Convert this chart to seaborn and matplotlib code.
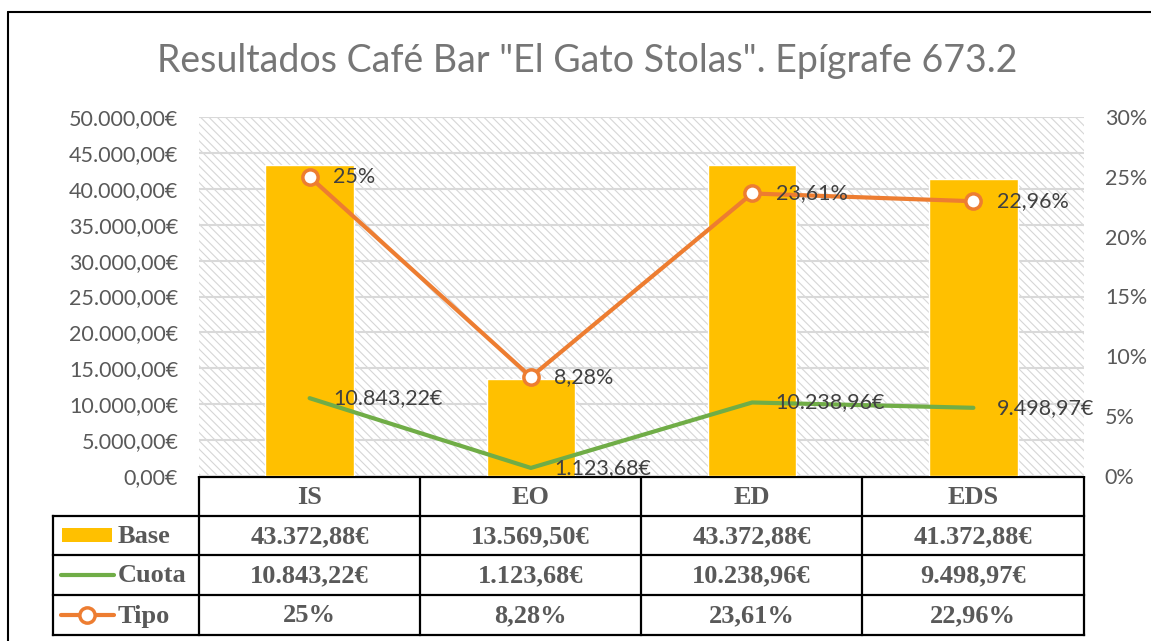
import numpy as np
import pandas as pd
import matplotlib
matplotlib.use("Agg")
import matplotlib.pyplot as plt
import seaborn as sns
from matplotlib.patches import Rectangle
from matplotlib.lines import Line2D
from matplotlib.ticker import FuncFormatter, MultipleLocator

# datos
categorias = ["IS", "EO", "ED", "EDS"]
base = [43372.88, 13569.50, 43372.88, 41372.88]
cuota = [10843.22, 1123.68, 10238.96, 9498.97]
tipo = [25.0, 8.28, 23.61, 22.96]
base_txt = ["43.372,88€", "13.569,50€", "43.372,88€", "41.372,88€"]
cuota_txt = ["10.843,22€", "1.123,68€", "10.238,96€", "9.498,97€"]
tipo_txt = ["25%", "8,28%", "23,61%", "22,96%"]
series = ["Base", "Cuota", "Tipo"]
titulo = 'Resultados Café Bar "El Gato Stolas". Epígrafe 673.2'

AMARILLO = "#FFC000"
VERDE = "#70AD47"
NARANJA = "#ED7D31"
GRIS = "#595959"
GRID = "#D9D9D9"

sns.set_theme(style="white")
plt.rcParams["font.family"] = ["Lato", "DejaVu Sans"]
plt.rcParams["hatch.linewidth"] = 0.8

W, H = 1151, 641
fig = plt.figure(figsize=(W / 100, H / 100), dpi=100)


def px_axes(x0, y0, x1, y1, **kw):
    return fig.add_axes([x0 / W, 1 - y1 / H, (x1 - x0) / W, (y1 - y0) / H], **kw)


def fmt_euro(v, _):
    s = f"{v:,.2f}".replace(",", "X").replace(".", ",").replace("X", ".")
    return s + "€"


# borde exterior
fig.add_artist(Line2D([8 / W, 8 / W], [0, 1 - 12 / H], color="black", lw=1.5))
fig.add_artist(Line2D([8 / W, 1], [1 - 12 / H, 1 - 12 / H], color="black", lw=1.5))

fig.text(587 / W, 1 - 61 / H, titulo, ha="center", va="center",
         fontsize=27, color="#767676")

# grafico principal
ax = px_axes(199, 117, 1084, 476)
ax.add_patch(Rectangle((0, 0), 1, 1, transform=ax.transAxes, facecolor="white",
                       edgecolor="#D6D6D6", hatch="\\\\\\\\", lw=0, zorder=0))
df = pd.DataFrame({"cat": categorias, "base": base, "cuota": cuota, "tipo": tipo})
sns.barplot(data=df, x="cat", y="base", color=AMARILLO, saturation=1, width=0.4,
            ax=ax, zorder=2)
sns.pointplot(data=df, x="cat", y="cuota", color=VERDE, marker="", linewidth=3,
              ax=ax, zorder=3)
ax.set_ylim(0, 50000)
ax.yaxis.set_major_locator(MultipleLocator(5000))
ax.yaxis.set_major_formatter(FuncFormatter(fmt_euro))
ax.grid(axis="y", color=GRID, lw=1.5, zorder=1)
ax.set_axisbelow(True)
ax.set_xlabel("")
ax.set_ylabel("")
ax.set_xticklabels([])
ax.tick_params(axis="y", length=0, pad=15, labelsize=15.5, labelcolor=GRIS)
ax.tick_params(axis="x", length=0)
for s in ax.spines.values():
    s.set_visible(False)

ax2 = ax.twinx()
sns.pointplot(data=df, x="cat", y="tipo", color=NARANJA, marker="o", linewidth=3,
              markersize=11, markerfacecolor="white", markeredgecolor=NARANJA,
              markeredgewidth=2.5, ax=ax2, zorder=4)
ax2.set_ylim(0, 30)
ax2.yaxis.set_major_locator(MultipleLocator(5))
ax2.yaxis.set_major_formatter(FuncFormatter(lambda v, _: f"{v:.0f}%"))
ax2.tick_params(axis="y", length=0, pad=15, labelsize=15.5, labelcolor=GRIS)
ax2.set_ylabel("")
ax2.set_xlabel("")
for s in ax2.spines.values():
    s.set_visible(False)
ax.set_xlim(-0.5, 3.5)
ax2.set_xlim(-0.5, 3.5)

# etiquetas de datos
for i in range(len(categorias)):
    ax.annotate(cuota_txt[i], (i, cuota[i]), xytext=(17, 0), textcoords="offset points",
                ha="left", va="center", fontsize=15.5, color="#404040", zorder=6)
    ax2.annotate(tipo_txt[i], (i, tipo[i]), xytext=(17, 0), textcoords="offset points",
                 ha="left", va="center", fontsize=15.5, color="#404040", zorder=6)

# tabla de datos
tb = px_axes(0, 476, W, H)
tb.set_xlim(0, W)
tb.set_ylim(H, 476)
tb.axis("off")
tb.set_zorder(10)
col_x = [199, 420, 641, 862, 1084]
row_y = [477, 516, 555, 595, 635]
tb.add_patch(Rectangle((199, 477), 1084 - 199, 635 - 477, facecolor="white", lw=0))
tb.add_patch(Rectangle((53, 516), 199 - 53, 635 - 516, facecolor="white", lw=0))
lk = dict(color="black", lw=1.6, solid_capstyle="projecting")
for y in row_y:
    x0 = 199 if y == 477 else 53
    tb.plot([x0, 1084], [y, y], **lk)
for x in col_x:
    tb.plot([x, x], [477, 635], **lk)
tb.plot([53, 53], [516, 635], **lk)

serif = dict(family=["Liberation Serif", "DejaVu Serif"], fontweight="bold",
             fontsize=19, color=GRIS, ha="center", va="center")
filas = [base_txt, cuota_txt, tipo_txt]
for j, cat in enumerate(categorias):
    cx = (col_x[j] + col_x[j + 1]) / 2
    tb.text(cx, (row_y[0] + row_y[1]) / 2 + 1, cat, **serif)
    for r in range(3):
        tb.text(cx, (row_y[r + 1] + row_y[r + 2]) / 2 + 1, filas[r][j], **serif)

for r, nombre in enumerate(series):
    cy = (row_y[r + 1] + row_y[r + 2]) / 2
    tb.text(118, cy + 1, nombre, **{**serif, "ha": "left"})
tb.add_patch(Rectangle((62, 528), 50, 14, facecolor=AMARILLO, lw=0))
tb.plot([61, 114], [575, 575], color=VERDE, lw=3)
tb.plot([61, 114], [615, 615], color=NARANJA, lw=3)
tb.plot([87.5], [615], marker="o", markersize=11, markerfacecolor="white",
        markeredgecolor=NARANJA, markeredgewidth=2.5)

fig.savefig("out.png", dpi=100)
